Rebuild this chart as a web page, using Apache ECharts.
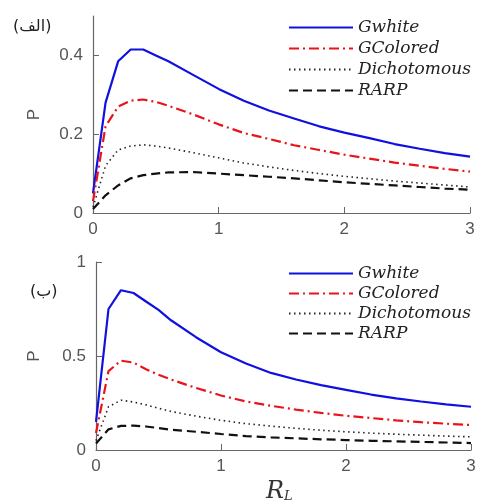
<!DOCTYPE html>
<html>
<head>
<meta charset="utf-8">
<script src="https://cdn.jsdelivr.net/npm/echarts@6/dist/echarts.min.js"></script>
<style>
  html, body { margin: 0; padding: 0; background: #fff; }
  #chart { width: 479px; height: 502px; }
</style>
</head>
<body>
<div id="chart"></div>
<script>
// R_L sample points
var rl = [0, 0.1, 0.2, 0.3, 0.4, 0.5, 0.6, 0.8, 1.0, 1.2, 1.4, 1.6, 1.8, 2.0, 2.2, 2.4, 2.6, 2.8, 3.0];

// panel (الف)
var gwhiteA      = [0.05, 0.28, 0.385, 0.415, 0.415, 0.40, 0.385, 0.35, 0.315, 0.285, 0.26, 0.24, 0.22, 0.204, 0.19, 0.175, 0.163, 0.152, 0.143];
var gcoloredA    = [0.03, 0.22, 0.27, 0.285, 0.288, 0.282, 0.272, 0.25, 0.225, 0.203, 0.188, 0.172, 0.16, 0.148, 0.138, 0.128, 0.12, 0.112, 0.105];
var dichotomousA = [0.015, 0.12, 0.16, 0.17, 0.173, 0.17, 0.165, 0.153, 0.14, 0.127, 0.117, 0.108, 0.1, 0.093, 0.087, 0.081, 0.076, 0.071, 0.066];
var rarpA        = [0.01, 0.045, 0.07, 0.088, 0.096, 0.1, 0.103, 0.104, 0.1, 0.096, 0.092, 0.088, 0.083, 0.078, 0.074, 0.07, 0.066, 0.062, 0.059];

// panel (ب)
var gwhiteB      = [0.15, 0.75, 0.85, 0.835, 0.79, 0.745, 0.69, 0.6, 0.52, 0.46, 0.41, 0.375, 0.345, 0.32, 0.295, 0.275, 0.258, 0.243, 0.23];
var gcoloredB    = [0.09, 0.42, 0.475, 0.465, 0.43, 0.4, 0.375, 0.33, 0.29, 0.258, 0.235, 0.215, 0.197, 0.182, 0.17, 0.158, 0.148, 0.14, 0.133];
var dichotomousB = [0.05, 0.23, 0.265, 0.255, 0.24, 0.222, 0.205, 0.18, 0.158, 0.14, 0.127, 0.115, 0.105, 0.097, 0.09, 0.084, 0.079, 0.074, 0.07];
var rarpB        = [0.035, 0.11, 0.128, 0.13, 0.125, 0.117, 0.108, 0.097, 0.085, 0.074, 0.067, 0.062, 0.057, 0.053, 0.049, 0.046, 0.043, 0.04, 0.037];

var nombres = ['Gwhite', 'GColored', 'Dichotomous', 'RARP'];
var yTicksA = [0, 0.2, 0.4];
var yTicksB = [0, 0.5, 1];
var xTicks = [0, 1, 2, 3];

var estilos = [
  { color: '#1010e0', width: 2.2, type: 'solid' },
  { color: '#e8141a', width: 2.2, type: [10, 4, 2, 4] },
  { color: '#222', width: 1.6, type: [1.5, 3.5] },
  { color: '#111', width: 2.2, type: [9, 5] }
];

function armarPares(valores){
  var pares = [];
  for (var i = 0; i < rl.length; i++) {
    pares.push([rl[i], valores[i]]);
  }
  return pares;
}

function armarSerie(idx, datos, panel){
  return {
    name: nombres[idx],
    type: 'line',
    xAxisIndex: panel,
    yAxisIndex: panel,
    symbol: 'none',
    smooth: false,
    lineStyle: estilos[idx],
    itemStyle: { color: estilos[idx].color },
    data: armarPares(datos)
  };
}

var ejeColor = '#666';
var labelStyle = { color: '#555', fontSize: 17, fontFamily: 'Liberation Sans, Arial, sans-serif' };

function ejeX(grid){
  return {
    type: 'value', gridIndex: grid, min: 0, max: 3,
    axisLine: { lineStyle: { color: ejeColor, width: 1.2 } },
    axisTick: { inside: true, length: 6, customValues: xTicks, lineStyle: { color: ejeColor } },
    axisLabel: Object.assign({ customValues: xTicks, margin: 8 }, labelStyle),
    splitLine: { show: false }
  };
}

function ejeY(grid, max, ticks, gap){
  return {
    type: 'value', gridIndex: grid, min: 0, max: max,
    name: 'P', nameLocation: 'middle', nameGap: gap, nameRotate: 90,
    nameTextStyle: { color: '#555', fontSize: 17, fontFamily: 'Liberation Sans, Arial, sans-serif' },
    axisLine: { show: true, lineStyle: { color: ejeColor, width: 1.2 } },
    axisTick: { show: true, inside: true, length: 6, customValues: ticks, lineStyle: { color: ejeColor } },
    axisLabel: Object.assign({ customValues: ticks, margin: 10 }, labelStyle),
    splitLine: { show: false }
  };
}

function leyenda(top, gap){
  return {
    data: nombres, orient: 'vertical', left: 288, top: top,
    padding: 0,
    itemWidth: 64, itemHeight: 10, itemGap: gap,
    selectedMode: false,
    itemStyle: { opacity: 0 },
    textStyle: { color: '#222', fontSize: 17, fontStyle: 'italic', fontFamily: 'DejaVu Serif, serif' }
  };
}

var series = [];
[gwhiteA, gcoloredA, dichotomousA, rarpA].forEach(function(d, i){ series.push(armarSerie(i, d, 0)); });
[gwhiteB, gcoloredB, dichotomousB, rarpB].forEach(function(d, i){ series.push(armarSerie(i, d, 1)); });

var myChart = echarts.init(document.getElementById('chart'), null, { renderer: 'canvas' });
myChart.setOption({
  backgroundColor: '#fff',
  animation: false,
  grid: [
    { left: 93, right: 9, top: 16, bottom: 289 },
    { left: 96, right: 8, top: 262, bottom: 52 }
  ],
  xAxis: [ejeX(0), ejeX(1)],
  yAxis: [ejeY(0, 0.5, yTicksA, 50), ejeY(1, 1, yTicksB, 53)],
  legend: [leyenda(19, 4), leyenda(265, 3)],
  graphic: [
    { type: 'text', left: 13, top: 19, style: { text: '(الف)', fontSize: 16, fill: '#222', fontFamily: 'DejaVu Sans' } },
    { type: 'text', left: 30, top: 284, style: { text: '(ب)', fontSize: 16, fill: '#222', fontFamily: 'DejaVu Sans' } },
    { type: 'text', left: 266, top: 480, style: {
        rich: {
          r: { fontSize: 24, fontStyle: 'italic', fontFamily: 'DejaVu Serif, serif', fill: '#333' },
          s: { fontSize: 13, fontStyle: 'italic', fontFamily: 'DejaVu Serif, serif', fill: '#333', padding: [10, 0, 0, 0] }
        },
        text: '{r|R}{s|L}'
      } }
  ],
  series: series
});
</script>
</body>
</html>
